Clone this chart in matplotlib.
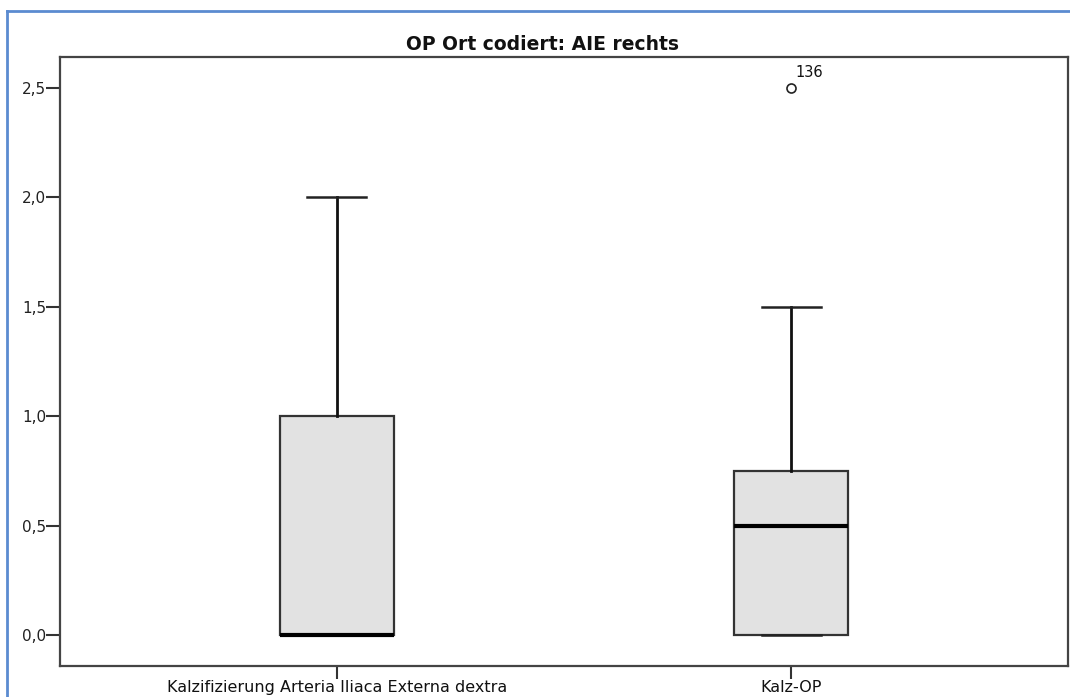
import matplotlib
matplotlib.use("Agg")
import matplotlib.pyplot as plt
from matplotlib.lines import Line2D

plt.rcParams['font.family'] = ['DejaVu Sans']

categories = ["Kalzifizierung Arteria Iliaca Externa dextra", "Kalz-OP"]
q1 = [0.0, 0.0]
median = [0.0, 0.5]
q3 = [1.0, 0.75]
whisker_low = [0.0, 0.0]
whisker_high = [2.0, 1.5]
outliers = [[], [2.5]]
outlier_labels = [[], ["136"]]
y_ticks = [0.0, 0.5, 1.0, 1.5, 2.0, 2.5]
y_tick_labels = ["0,0", "0,5", "1,0", "1,5", "2,0", "2,5"]
title = "OP Ort codiert: AIE rechts"

W, H = 1070, 697
fig = plt.figure(figsize=(W / 100, H / 100), dpi=100)
ax = fig.add_axes([60 / W, 1 - 666 / H, (1068 - 60) / W, (666 - 57) / H])

stats = []
for i in range(len(categories)):
    stats.append(dict(label=categories[i], q1=q1[i], med=median[i], q3=q3[i],
                      whislo=whisker_low[i], whishi=whisker_high[i], fliers=outliers[i]))

positions = list(range(1, len(categories) + 1))
ax.bxp(stats, positions=positions, widths=0.25, patch_artist=True, showfliers=True,
       boxprops=dict(facecolor="#e2e2e2", edgecolor="#333333", linewidth=1.6),
       medianprops=dict(color="#000000", linewidth=3),
       whiskerprops=dict(color="#111111", linewidth=2),
       capprops=dict(color="#222222", linewidth=1.8),
       capwidths=0.13,
       flierprops=dict(marker="o", markersize=6.5, markerfacecolor="white",
                       markeredgecolor="#222222", markeredgewidth=1.2))

for pos, vals, labs in zip(positions, outliers, outlier_labels):
    for v, lab in zip(vals, labs):
        ax.annotate(lab, xy=(pos, v), xytext=(3, 6), textcoords="offset points",
                    fontsize=10.5, color="#111111", ha="left", va="bottom")

ax.set_xlim(0.39, 2.61)
ax.set_ylim(-0.142, 2.642)
ax.set_yticks(y_ticks)
ax.set_yticklabels(y_tick_labels)
ax.set_xticks(positions)
ax.set_xticklabels(categories)
ax.tick_params(axis="y", length=10, width=1.5, color="#333333", labelsize=11,
               labelcolor="#222222", pad=0)
ax.tick_params(axis="x", length=9, width=1.5, color="#333333", labelsize=11.5,
               labelcolor="#111111", pad=1)
for s in ax.spines.values():
    s.set_color("#444444")
    s.set_linewidth(1.6)

fig.text(543 / W, 1 - 44 / H, title, ha="center", va="center",
         fontsize=13.5, fontweight="bold", color="#111111")

# outer blue frame (top and left visible)
fig.add_artist(Line2D([7 / W, 1.0], [1 - 11 / H, 1 - 11 / H], transform=fig.transFigure,
                      color="#5b8bd0", linewidth=2))
fig.add_artist(Line2D([7 / W, 7 / W], [0.0, 1 - 11 / H], transform=fig.transFigure,
                      color="#5b8bd0", linewidth=2))

fig.savefig("out.png", dpi=100)
